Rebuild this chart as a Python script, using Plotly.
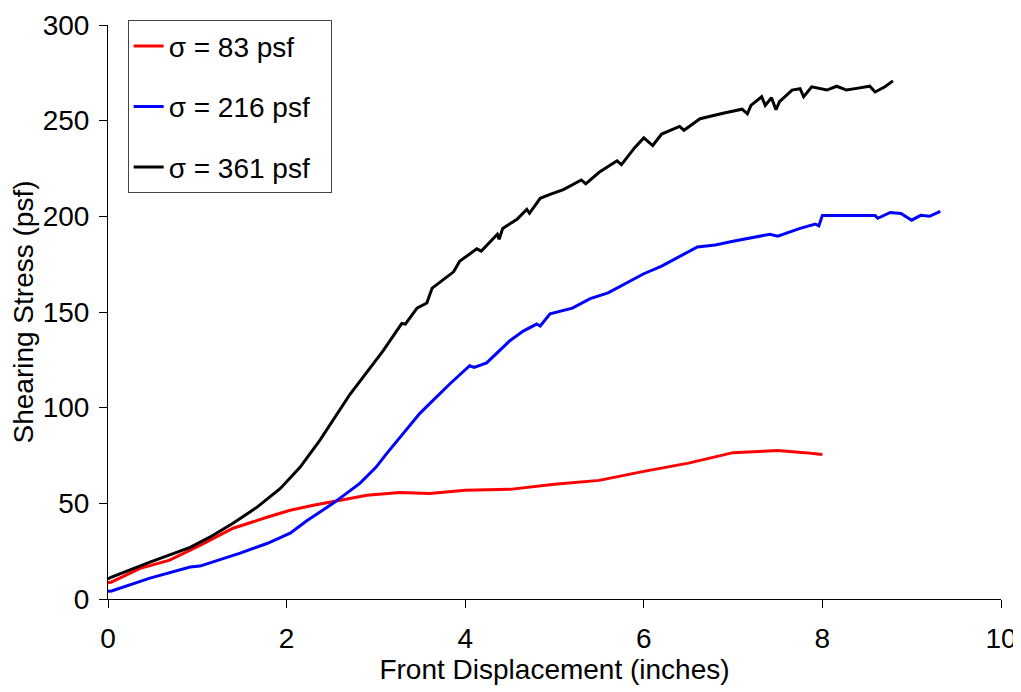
import plotly.graph_objects as go

# sigma = 83 psf
x_83 = [0.0, 0.04, 0.36, 0.69, 1.03, 1.4, 1.78, 2.04, 2.3, 2.6, 2.9, 3.27, 3.6, 4.0, 4.5,
        5.0, 5.5, 6.0, 6.5, 7.0, 7.5, 7.8, 8.0]
y_83 = [8.5, 8.9, 16.0, 20.3, 28.0, 37.0, 42.7, 46.4, 49.0, 51.6, 54.2, 55.7, 55.2, 56.8, 57.3,
        60.0, 62.0, 66.7, 71.0, 76.5, 77.6, 76.5, 75.5]

# sigma = 216 psf
x_216 = [0.0, 0.04, 0.47, 0.92, 1.03, 1.48, 1.78, 2.04, 2.23, 2.52, 2.82, 3.0, 3.12, 3.24,
         3.49, 3.6, 3.83, 4.05, 4.1, 4.24, 4.5, 4.65, 4.8, 4.84, 4.95, 5.2, 5.4, 5.6, 5.8,
         6.0, 6.2, 6.4, 6.6, 6.8, 7.0, 7.41, 7.5, 7.75, 7.92, 7.96, 8.0, 8.59, 8.62, 8.76,
         8.88, 9.0, 9.1, 9.2, 9.32]
y_216 = [4.0, 4.2, 10.9, 16.7, 17.2, 24.0, 29.0, 34.4, 41.0, 50.0, 60.4, 68.8, 76.0, 82.8,
         96.9, 102.0, 112.5, 121.9, 121.0, 123.4, 135.0, 140.0, 143.7, 142.7, 149.0, 152.0, 157.0,
         160.0, 165.0, 170.0, 174.0, 179.0, 184.0, 185.0, 187.0, 190.6, 189.6, 193.7, 196.0,
         195.0, 200.5, 200.5, 199.0, 202.0, 201.5, 198.0, 200.5, 200.0, 202.6]

# sigma = 361 psf
x_361 = [0.0, 0.04, 0.47, 0.92, 1.14, 1.4, 1.67, 1.93, 2.15, 2.3, 2.37, 2.71, 3.08, 3.29,
         3.33, 3.46, 3.57, 3.63, 3.87, 3.94, 4.13, 4.18, 4.36, 4.38, 4.42, 4.58, 4.69, 4.72,
         4.84, 4.95, 5.1, 5.3, 5.35, 5.5, 5.7, 5.75, 5.9, 6.0, 6.05, 6.1, 6.2, 6.4, 6.45,
         6.63, 6.9, 7.1, 7.16, 7.2, 7.32, 7.36, 7.43, 7.48, 7.52, 7.66, 7.75, 7.79, 7.88,
         8.05, 8.16, 8.27, 8.4, 8.53, 8.59, 8.7, 8.79]
y_361 = [10.5, 11.5, 19.3, 27.0, 32.3, 39.6, 48.0, 57.8, 68.8, 78.6, 82.8, 107.0, 129.7, 144.0,
         143.7, 152.0, 154.7, 162.5, 171.0, 176.6, 183.0, 181.8, 190.6, 188.0, 193.7, 198.4,
         203.6, 201.6, 209.4, 211.5, 214.0, 219.0, 217.0, 223.0, 229.0, 227.0, 236.0, 241.0,
         239.0, 237.0, 243.0, 247.0, 245.0, 251.0, 254.0, 256.0, 253.6, 258.0, 262.5, 258.0,
         262.0, 255.7, 260.0, 266.0, 266.7, 262.5, 267.7, 266.0, 268.0, 266.0, 267.0, 268.0,
         265.0, 267.7, 270.8]

series = [
    ("σ = 83 psf", x_83, y_83, "#ff0000"),
    ("σ = 216 psf", x_216, y_216, "#0000ff"),
    ("σ = 361 psf", x_361, y_361, "#000000"),
]

fig = go.Figure()
for name, xs, ys, color in series:
    # trailing no-break spaces widen the legend box a little, as in the original
    fig.add_trace(go.Scatter(x=xs, y=ys, mode="lines", name=name + "\u00a0\u00a0",
                             legendgroup=name, line=dict(color=color, width=3)))

font = "Liberation Sans, Arial, sans-serif"
text_font = dict(family=font, size=28, color="black")
# page body has an 8px margin, so the figure is 8px smaller than the window
fig.update_layout(
    width=1013, height=684,
    margin=dict(l=100, r=20, t=15, b=93),
    plot_bgcolor="white", paper_bgcolor="white",
    font=text_font,
    showlegend=True,
    legend=dict(x=0.022, y=1.008, xanchor="left", yanchor="top",
                bordercolor="#444444", borderwidth=1, bgcolor="white",
                tracegroupgap=21, font=text_font),
    xaxis=dict(title=dict(text="Front Displacement (inches)", standoff=6, font=text_font),
               range=[0, 10], dtick=2, showgrid=False, zeroline=False, automargin=False,
               showline=True, linecolor="black", linewidth=1, tickfont=text_font,
               ticks="outside", ticklen=8, tickcolor="black", ticklabelstandoff=6,
               ticklabeloverflow="allow"),
    yaxis=dict(title=dict(text="Shearing Stress (psf)", standoff=10, font=text_font),
               range=[0, 300], dtick=50, showgrid=False, zeroline=False, automargin=False,
               showline=True, linecolor="black", linewidth=1, tickfont=text_font,
               ticks="outside", ticklen=8, tickcolor="black", ticklabelstandoff=4,
               ticklabeloverflow="allow"),
)

fig.write_html("out.html")
